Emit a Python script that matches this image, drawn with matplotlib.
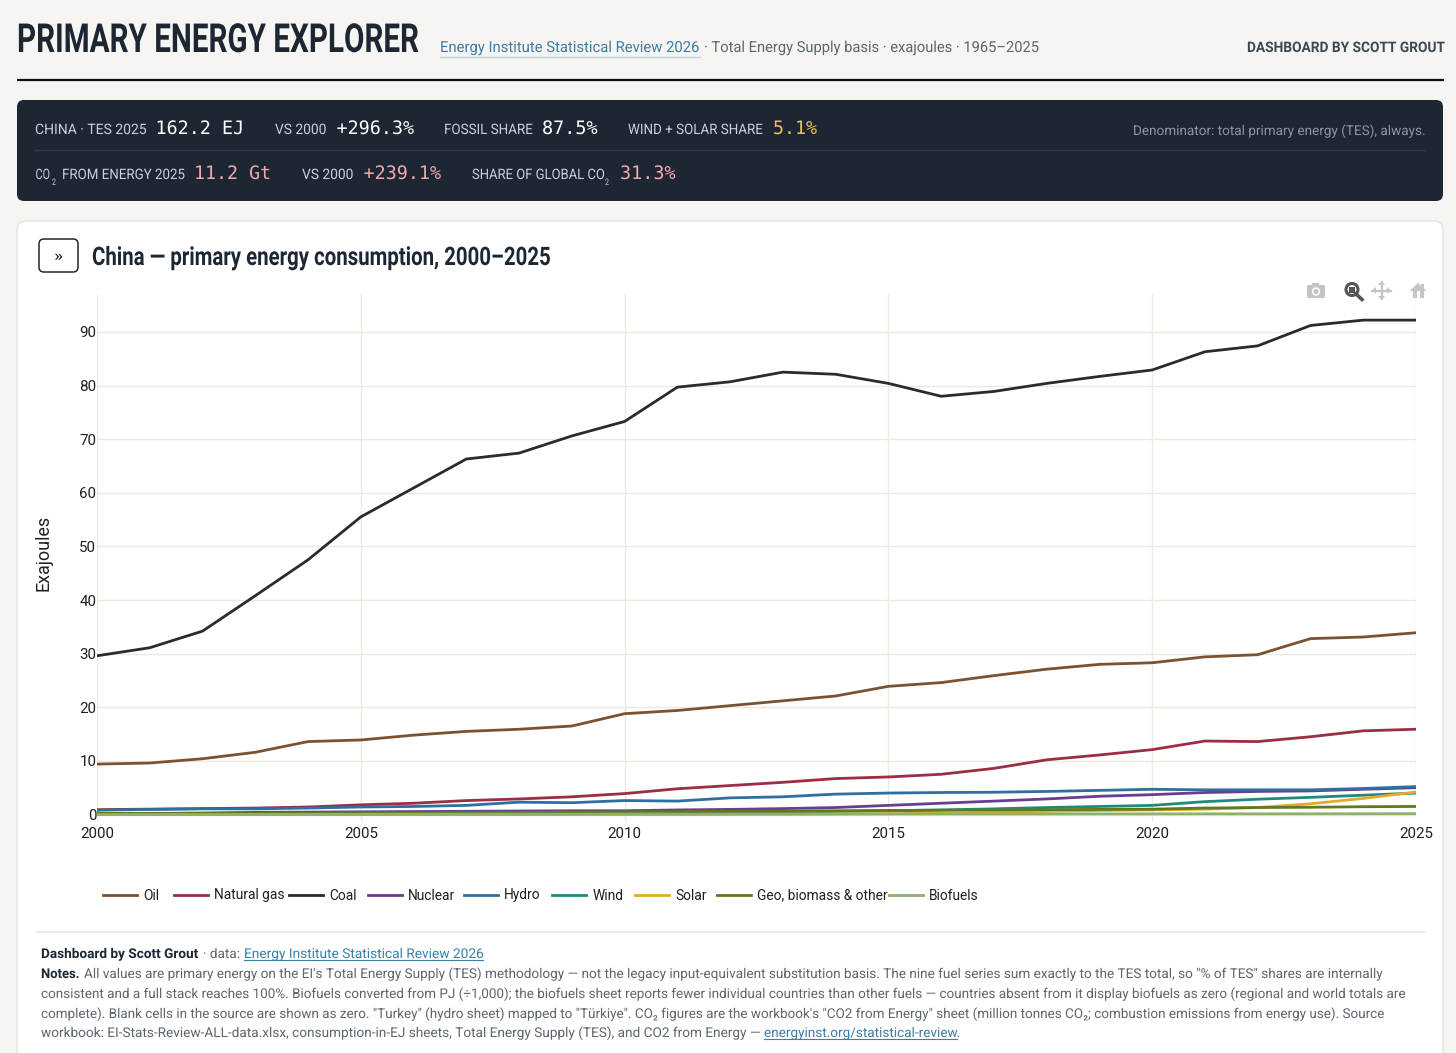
import matplotlib
matplotlib.use("Agg")
import matplotlib.pyplot as plt
from matplotlib.patches import FancyBboxPatch, Rectangle, Circle, Polygon
from matplotlib.patheffects import AbstractPathEffect
from matplotlib.transforms import Affine2D, Bbox

years = list(range(2000, 2026))
oil = [9.4, 9.6, 10.4, 11.6, 13.6, 13.9, 14.8, 15.5, 15.9, 16.5, 18.8, 19.4, 20.3, 21.2, 22.1, 23.9, 24.6, 25.9, 27.1, 28.0, 28.3, 29.4, 29.8, 32.8, 33.1, 33.9]
gas = [0.9, 1.0, 1.1, 1.2, 1.4, 1.8, 2.1, 2.6, 2.9, 3.3, 3.9, 4.8, 5.4, 6.0, 6.7, 7.0, 7.5, 8.6, 10.2, 11.1, 12.1, 13.7, 13.6, 14.5, 15.6, 15.9]
coal = [29.6, 31.1, 34.2, 40.8, 47.5, 55.5, 60.9, 66.3, 67.4, 70.6, 73.3, 79.7, 80.7, 82.5, 82.1, 80.4, 78.0, 78.9, 80.4, 81.7, 82.9, 86.3, 87.4, 91.2, 92.2, 92.2]
nuclear = [0.15, 0.18, 0.25, 0.4, 0.45, 0.5, 0.55, 0.6, 0.65, 0.7, 0.7, 0.85, 0.95, 1.1, 1.3, 1.7, 2.1, 2.5, 2.9, 3.4, 3.7, 4.1, 4.3, 4.4, 4.7, 5.0]
hydro = [0.8, 0.95, 1.05, 1.05, 1.2, 1.4, 1.5, 1.7, 2.3, 2.2, 2.6, 2.5, 3.1, 3.3, 3.8, 4.0, 4.1, 4.15, 4.3, 4.5, 4.7, 4.6, 4.6, 4.6, 4.85, 5.2]
wind = [0.0, 0.0, 0.0, 0.0, 0.01, 0.01, 0.02, 0.03, 0.05, 0.1, 0.15, 0.25, 0.35, 0.45, 0.55, 0.7, 0.85, 1.05, 1.3, 1.5, 1.7, 2.4, 2.85, 3.2, 3.6, 4.0]
solar = [0.0, 0.0, 0.0, 0.0, 0.0, 0.0, 0.0, 0.0, 0.0, 0.0, 0.01, 0.02, 0.03, 0.05, 0.1, 0.15, 0.25, 0.4, 0.6, 0.75, 0.85, 1.0, 1.3, 2.0, 3.0, 4.2]
geo = [0.2, 0.22, 0.24, 0.26, 0.28, 0.3, 0.33, 0.37, 0.4, 0.45, 0.5, 0.55, 0.6, 0.65, 0.7, 0.75, 0.8, 0.85, 0.9, 0.95, 1.0, 1.2, 1.3, 1.35, 1.45, 1.5]
biofuels = [0.0, 0.0, 0.01, 0.02, 0.03, 0.04, 0.05, 0.05, 0.06, 0.06, 0.07, 0.07, 0.08, 0.08, 0.09, 0.09, 0.1, 0.1, 0.1, 0.11, 0.11, 0.12, 0.12, 0.13, 0.14, 0.15]

names = ["Oil", "Natural gas", "Coal", "Nuclear", "Hydro", "Wind", "Solar", "Geo, biomass & other", "Biofuels"]
colors = ["#7a5230", "#9b2d45", "#2b2b2b", "#6a3d8f", "#2f6f9f", "#1f8a78", "#e0ac2b", "#5f7a1e", "#8fb06a"]
series = [oil, gas, coal, nuclear, hydro, wind, solar, geo, biofuels]
xticks = [2000, 2005, 2010, 2015, 2020, 2025]
yticks = list(range(0, 100, 10))

BODY = "Roboto"
MONO = "DejaVu Sans Mono"
INK = "#1c2733"

W, H = 1456, 1053
fig = plt.figure(figsize=(W / 100, H / 100), dpi=100, facecolor="#f7f5f2")
bg = fig.add_axes([0, 0, 1, 1], zorder=0)
bg.set_xlim(0, W); bg.set_ylim(H, 0); bg.axis("off")
rend = fig.canvas.get_renderer()


class Squeeze(AbstractPathEffect):
    """Draw a text narrower or wider about its left edge (no condensed font is installed)."""
    def __init__(self, x, s):
        super().__init__()
        self.x, self.s = x, s

    def draw_path(self, renderer, gc, tpath, affine, rgbFace=None):
        tr = affine + Affine2D().translate(-self.x, 0).scale(self.s, 1).translate(self.x, 0)
        renderer.draw_path(gc, tpath, tr, rgbFace)


def T(x, x_end, y, s, size, color=INK, family=BODY, weight="normal", zorder=5):
    """Real text from pixel x to pixel x_end, with its baseline at pixel y."""
    t = bg.text(x, y, s, fontsize=size * 0.72, color=color, family=family, weight=weight,
                ha="left", va="baseline", zorder=zorder)
    bb = t.get_window_extent(rend)
    k = (x_end - x) / bb.width
    t.set_path_effects([Squeeze(bb.x0, k)])
    fitted = Bbox.from_extents(bb.x0, bb.y0, bb.x0 + bb.width * k, bb.y1)
    t.get_window_extent = lambda renderer=None, dpi=None: fitted
    return t


def box(x0, y0, x1, y1, r, fc, ec="none", lw=1, zorder=1):
    bg.add_patch(FancyBboxPatch((x0 + r, y0 + r), x1 - x0 - 2 * r, y1 - y0 - 2 * r,
                                boxstyle=f"round,pad={r},rounding_size={r}", fc=fc, ec=ec, lw=lw, zorder=zorder))


# header
T(17, 419, 52, "PRIMARY ENERGY EXPLORER", 40, weight="bold")
T(440, 700, 52, "Energy Institute Statistical Review 2026", 15.2, color="#3b7ea6")
bg.plot([440, 700], [57, 57], color="#b8d0e0", lw=1)
T(704, 1040, 52, "· Total Energy Supply basis · exajoules · 1965–2025", 15.2, color="#5d6670")
T(1247, 1444, 52, "DASHBOARD BY SCOTT GROUT", 14.5, color="#3c4854", weight="bold")
bg.plot([17, 1444], [79.5, 79.5], color="#111111", lw=1.6, solid_capstyle="butt")

# stat band
box(17, 100, 1443, 201, 7, "#1c2733", zorder=1)
bg.plot([35, 1425], [150, 150], color="#2f3a46", lw=1, zorder=2)
LBL = "#c9d0d6"
for x, xe, s in [(35, 146, "CHINA · TES 2025"), (275, 326, "VS 2000"), (444, 532, "FOSSIL SHARE"), (628, 762, "WIND + SOLAR SHARE")]:
    T(x, xe, 134, s, 14.4, LBL)
for x, xe, s, c in [(155.5, 244, "162.2 EJ", "#ffffff"), (336.5, 414, "+296.3%", "#ffffff"), (542, 597.5, "87.5%", "#ffffff"), (773, 817, "5.1%", "#f2c14e")]:
    T(x, xe, 134, s, 18.5, c, MONO)
T(1133, 1425, 135, "Denominator: total primary energy (TES), always.", 13.5, "#8b959f")
for x, xe, s in [(35.5, 50, "CO"), (62, 184, "FROM ENERGY 2025"), (302, 353, "VS 2000"), (472, 604, "SHARE OF GLOBAL CO")]:
    T(x, xe, 179, s, 14.4, LBL)
T(52, 56, 185, "2", 9, LBL); T(605, 609, 185, "2", 9, LBL)
for x, xe, s in [(194, 271, "11.2 Gt"), (363.5, 441, "+239.1%"), (620, 675.5, "31.3%")]:
    T(x, xe, 179, s, 18.5, "#f4a7ae", MONO)

# card
box(17, 221, 1443, 1070, 9, "#ffffff", ec="#e6e3dc", lw=1, zorder=1)
box(39, 239, 78, 272, 5, "#ffffff", ec=INK, lw=1.1, zorder=2)
T(54, 63, 261, "»", 15.5, INK)
T(92, 552, 265, "China — primary energy consumption, 2000–2025", 25.5, INK, weight="bold")

# toolbar icons
ig = "#c4c4c4"
box(1307, 285, 1325, 298, 2, ig, zorder=3)
bg.add_patch(Rectangle((1312, 283), 7, 3, fc=ig, ec="none", zorder=3))
bg.add_patch(Circle((1316, 291.5), 4.2, fc="#ffffff", ec="none", zorder=4))
bg.add_patch(Circle((1316, 291.5), 2.6, fc=ig, ec="none", zorder=5))
bg.add_patch(Circle((1352, 289.5), 6, fc="none", ec="#555555", lw=2.2, zorder=3))
bg.add_patch(Rectangle((1349, 286.5), 6, 6, fc="#555555", ec="none", zorder=3))
bg.plot([1356, 1362], [294, 299.5], color="#555555", lw=2.6, zorder=3)
bg.plot([1372, 1391], [290.5, 290.5], color=ig, lw=1.6, zorder=3)
bg.plot([1381.5, 1381.5], [282, 299], color=ig, lw=1.6, zorder=3)
for p in ([(1372, 290.5), (1376, 287), (1376, 294)], [(1391, 290.5), (1387, 287), (1387, 294)],
          [(1381.5, 281), (1378, 285), (1385, 285)], [(1381.5, 300), (1378, 296), (1385, 296)]):
    bg.add_patch(Polygon(p, fc=ig, ec="none", zorder=3))
bg.add_patch(Polygon([(1409.5, 291), (1418, 283), (1426.5, 291)], fc=ig, ec="none", zorder=3))
bg.add_patch(Rectangle((1412.5, 291), 4, 7, fc=ig, ec="none", zorder=3))
bg.add_patch(Rectangle((1419.5, 291), 4, 7, fc=ig, ec="none", zorder=3))
bg.add_patch(Rectangle((1421, 284), 2.5, 5, fc=ig, ec="none", zorder=3))

# chart
x0, x1, y_top, y_bot = 97, 1416, 294, 822
ax = fig.add_axes([x0 / W, 1 - y_bot / H, (x1 - x0) / W, (y_bot - y_top) / H], zorder=2, facecolor="none")
ax.set_xlim(2000, 2025)
ax.set_ylim((814.5 - y_bot) / 5.362, (814.5 - y_top) / 5.362)
for s in ax.spines.values():
    s.set_visible(False)
ax.set_xticks(xticks); ax.set_yticks(yticks)
ax.tick_params(length=0, labelsize=10.9, labelcolor="#1f1f1f")
ax.tick_params(axis="x", pad=3.8)
ax.tick_params(axis="y", pad=0.5)
ax.grid(True, color="#ece9e1", lw=1)
ax.set_axisbelow(True)
for lab in ax.get_xticklabels() + ax.get_yticklabels():
    lab.set_family(BODY)
handles = []
for name, vals, c in zip(names, series, colors):
    handles.append(ax.plot(years, vals, color=c, lw=2.0, label=name, solid_joinstyle="round")[0])
ax.set_ylabel("Exajoules", fontsize=12.9, family=BODY, color="#1f1f1f")
ax.yaxis.set_label_coords((53 - x0) / (x1 - x0), (y_bot - 552.5) / (y_bot - y_top))

# legend: plotly spaces its entries unevenly, so each entry is anchored on its own
legend_left = [103, 174, 289, 368, 464, 552, 635, 717, 889]
for i, (h, lx) in enumerate(zip(handles, legend_left)):
    leg = ax.legend(handles=[h], loc="center left", frameon=False, ncol=1,
                    bbox_to_anchor=(lx / W, 1 - 895.5 / H), bbox_transform=fig.transFigure,
                    prop={"family": BODY, "size": 9.9}, labelcolor="#1f1f1f", handlelength=2.47,
                    handletextpad=0.45, borderpad=0, borderaxespad=0)
    if i < len(handles) - 1:
        ax.add_artist(leg)

# footer
bg.plot([37, 1425], [932, 932], color="#e6e6e4", lw=1.2, zorder=2)
G = "#5d6670"; L = "#3b7ea6"
FS = 13.5
T(41, 199, 958, "Dashboard by Scott Grout", FS, "#1c2733", weight="bold")
T(203, 240, 958, "· data:", FS, G)
T(244, 483, 958, "Energy Institute Statistical Review 2026", FS, L)
bg.plot([244, 483], [960, 960], color=L, lw=0.8, zorder=3)
T(41, 80, 978, "Notes.", FS, "#1c2733", weight="bold")
T(84, 1379, 978, "All values are primary energy on the EI's Total Energy Supply (TES) methodology — not the legacy input-equivalent substitution basis. The nine fuel series sum exactly to the TES total, so \"% of TES\" shares are internally", FS, G)
T(41, 1404, 998, "consistent and a full stack reaches 100%. Biofuels converted from PJ (÷1,000); the biofuels sheet reports fewer individual countries than other fuels — countries absent from it display biofuels as zero (regional and world totals are", FS, G)
T(41, 1381, 1018, "complete). Blank cells in the source are shown as zero. \"Turkey\" (hydro sheet) mapped to \"Türkiye\". CO₂ figures are the workbook's \"CO2 from Energy\" sheet (million tonnes CO₂; combustion emissions from energy use). Source", FS, G)
T(41, 759, 1037, "workbook: EI-Stats-Review-ALL-data.xlsx, consumption-in-EJ sheets, Total Energy Supply (TES), and CO2 from Energy —", FS, G)
T(764, 957, 1037, "energyinst.org/statistical-review", FS, L)
T(957, 960, 1037, ".", FS, G)
bg.plot([764, 957], [1039, 1039], color=L, lw=0.8, zorder=3)

fig.savefig("out.png", dpi=100, facecolor=fig.get_facecolor())
